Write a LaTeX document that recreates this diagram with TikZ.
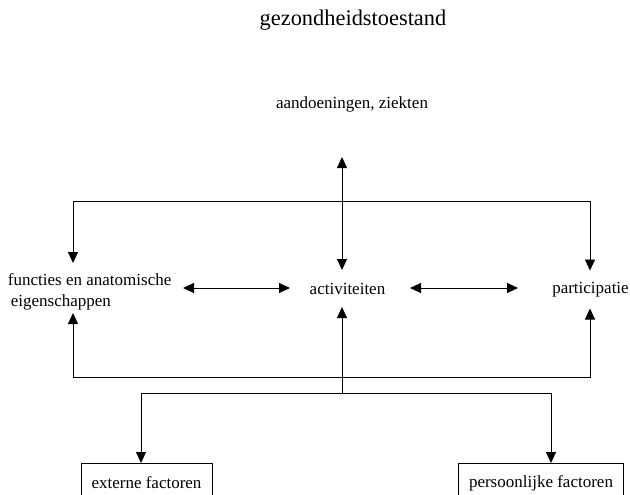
\documentclass[tikz,border=0pt]{standalone}
\usepackage{fontspec}
\setmainfont{Liberation Serif}
\usetikzlibrary{arrows.meta}
\begin{document}
\begin{tikzpicture}[x=1pt,y=-1pt,
  every node/.style={inner sep=0pt,outer sep=0pt},
  lbl/.style={font=\fontsize{17}{21}\selectfont},
  ttl/.style={font=\fontsize{22.4}{26}\selectfont},
  fbox/.style={draw,line width=0.9pt,minimum width=#1,minimum height=40pt,font=\fontsize{17}{21}\selectfont},
  tip/.tip={Triangle[length=11pt,width=10pt]},
  con/.style={line width=0.9pt,-tip},
  dcon/.style={line width=0.9pt,tip-tip}]
\useasboundingbox (0,0) rectangle (630,495);
\node[ttl] (title) at (353,20) {gezondheidstoestand};
\node[lbl] (aand) at (352,104) {aandoeningen, ziekten};
\node[lbl,minimum height=42pt,align=left,anchor=west] (func) at (8,292) {functies en anatomische\\ \,eigenschappen};
\node[lbl,minimum height=37pt] (act) at (347.5,288.5) {activiteiten};
\node[lbl,minimum height=38pt] (part) at (590.5,289.5) {participatie};
\node[fbox=131pt] (ext) at (146.5,483) {externe factoren};
\node[fbox=165pt] (pers) at (541,483) {persoonlijke factoren};
\coordinate (aT) at (342,157);
\coordinate (tl) at (73,201);
\coordinate (tr) at (590,201);
\coordinate (bl) at (73,377);
\coordinate (br) at (590,377);
\coordinate (sl) at (141,393);
\coordinate (sr) at (551,393);
% vertical aandoeningen <-> activiteiten
\draw[dcon] (aT) -- (aT |- act.north);
% top loop
\draw[dcon,shorten <=8pt] (tl |- func.north) -- (tl) -- (tr) -- (tr |- part.north);
% bottom loop
\draw[dcon] (bl |- func.south) -- (bl) -- (br) -- (br |- part.south);
% middle up
\draw[con] (aT |- sl) -- (aT |- act.south);
% split to factors
\draw[dcon] (sl |- ext.north) -- (sl) -- (sr) -- (sr |- pers.north);
% horizontal double arrows
\draw[dcon] (183,288) -- (290,288);
\draw[dcon] (410,288) -- (518,288);
\end{tikzpicture}
\end{document}
